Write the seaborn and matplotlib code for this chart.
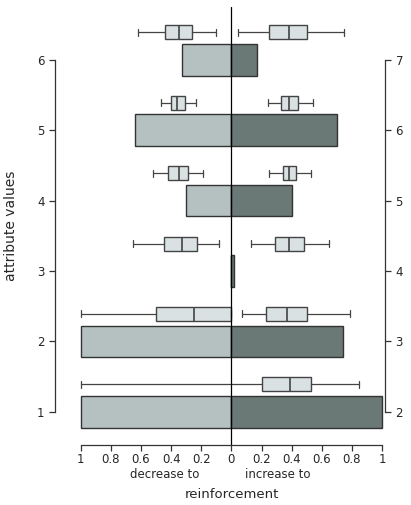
import matplotlib
matplotlib.use("Agg")
import matplotlib.pyplot as plt
import seaborn as sns
import pandas as pd

rows = [1, 2, 3, 4, 5, 6]
right_labels = ["2", "3", "4", "5", "6", "7"]
decrease = [1.0, 1.0, 0.0, 0.30, 0.64, 0.33]
increase = [1.0, 0.74, 0.02, 0.40, 0.70, 0.17]
# box stats (in axis units; decrease side negative): whislo, q1, med, q3, whishi
dec_box = [None,
           [-1.0, -0.50, -0.25, 0.0, 0.0],
           [-0.65, -0.45, -0.33, -0.23, -0.085],
           [-0.52, -0.42, -0.35, -0.29, -0.19],
           [-0.47, -0.40, -0.36, -0.31, -0.235],
           [-0.62, -0.44, -0.35, -0.26, -0.10]]
inc_box = [[-1.0, 0.20, 0.39, 0.53, 0.85],
           [0.07, 0.23, 0.37, 0.50, 0.79],
           [0.13, 0.29, 0.38, 0.48, 0.65],
           [0.25, 0.34, 0.38, 0.43, 0.53],
           [0.24, 0.33, 0.38, 0.44, 0.54],
           [0.045, 0.25, 0.38, 0.50, 0.75]]

sns.set_style("white")
plt.rcParams['font.family'] = ['DejaVu Sans']
fig = plt.figure(figsize=(4.11, 5.05), dpi=100)
ax = fig.add_axes([0.134, 0.119, 0.803, 0.867])

df = pd.DataFrame({"y": rows * 2,
                   "x": [-v for v in decrease] + increase,
                   "side": ["dec"] * 6 + ["inc"] * 6})
sns.barplot(data=df, x="x", y="y", hue="side", orient="h", native_scale=True,
            palette={"dec": "#b3c3c1", "inc": "#687a78"}, dodge=False,
            width=0.45, edgecolor="#333333", linewidth=1.0, legend=False, ax=ax)

stats = []
pos = []
for r, b in zip(rows, dec_box):
    if b is not None:
        stats.append(dict(whislo=b[0], q1=b[1], med=b[2], q3=b[3], whishi=b[4], fliers=[]))
        pos.append(r + 0.39)
for r, b in zip(rows, inc_box):
    stats.append(dict(whislo=b[0], q1=b[1], med=b[2], q3=b[3], whishi=b[4], fliers=[]))
    pos.append(r + 0.39)
ax.bxp(stats, positions=pos, vert=False, widths=0.2, patch_artist=True, showfliers=False,
       boxprops=dict(facecolor="#d9e1e2", edgecolor="#444444", linewidth=1),
       medianprops=dict(color="#444444", linewidth=1.2),
       whiskerprops=dict(color="#444444", linewidth=0.9),
       capprops=dict(color="#444444", linewidth=0.9), capwidths=0.1, manage_ticks=False)

ax.axvline(0, color="black", linewidth=0.9)
ax.set_xlim(-1.17, 1.02)
ax.set_ylim(0.53, 6.75)
xt = [-1, -0.8, -0.6, -0.4, -0.2, 0, 0.2, 0.4, 0.6, 0.8, 1]
ax.set_xticks(xt)
ax.set_xticklabels(["1", "0.8", "0.6", "0.4", "0.2", "0", "0.2", "0.4", "0.6", "0.8", "1"])
ax.set_yticks(rows)
ax.set_yticklabels([str(r) for r in rows])
ax.set_xlabel("")
ax.set_ylabel("attribute values", fontsize=10, labelpad=14)
ax.spines["top"].set_visible(False)
ax.spines["bottom"].set_bounds(-1, 1)
ax.spines["left"].set_bounds(1, 6)
ax.spines["right"].set_bounds(1, 6)
for s in ["bottom", "left", "right"]:
    ax.spines[s].set_color("#333333")
    ax.spines[s].set_linewidth(0.9)
ax.tick_params(axis="both", length=4, width=0.9, color="#333333", labelsize=8.5, left=True, bottom=True)
ax.tick_params(axis="x", pad=2)
ax2 = ax.twinx()
ax2.set_ylim(ax.get_ylim())
ax2.set_yticks(rows)
ax2.set_yticklabels(right_labels)
ax2.tick_params(axis="y", length=4, width=0.9, color="#333333", labelsize=8.5, right=True)
for s in ax2.spines.values():
    s.set_visible(False)

fig.text(165 / 411, 1 - 474 / 505, "decrease to", ha="center", va="center", fontsize=8.5)
fig.text(278 / 411, 1 - 474 / 505, "increase to", ha="center", va="center", fontsize=8.5)
fig.text(232 / 411, 1 - 494 / 505, "reinforcement", ha="center", va="center", fontsize=9.5)

fig.savefig("out.png", dpi=100)
